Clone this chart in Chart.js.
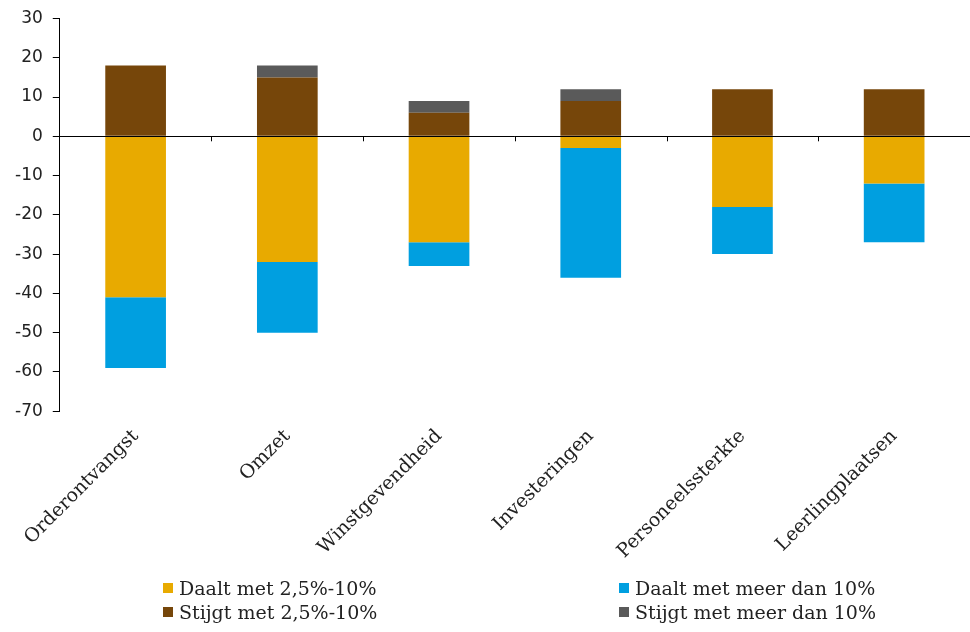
<!DOCTYPE html>
<html><head><meta charset="utf-8">
<script src="https://cdn.jsdelivr.net/npm/chart.js@4.4.1/dist/chart.umd.min.js"></script>
<style>
html,body{margin:0;padding:0;background:#fff;}
#wrap{position:relative;width:970px;height:632px;}
#legend{position:absolute;left:0;top:577px;width:970px;font-family:"DejaVu Serif",serif;font-size:19px;color:#222;}
.item{position:absolute;display:flex;align-items:center;white-space:nowrap;}
.box{width:10px;height:10px;margin-right:6px;}
</style></head><body>
<div id="wrap"><canvas id="c" width="970" height="632"></canvas><div id="legend"></div></div>
<script>
const categories = ["Orderontvangst","Omzet","Winstgevendheid","Investeringen","Personeelssterkte","Leerlingplaatsen"];
const daalt2510 = [-41,-32,-27,-3,-18,-12];
const daaltMeer10 = [-18,-18,-6,-33,-12,-15];
const stijgt2510 = [18,15,6,9,12,12];
const stijgtMeer10 = [0,3,3,3,0,0];
const yTicks = [30,20,10,0,-10,-20,-30,-40,-50,-60,-70];

const series = [
  {label:"Daalt met 2,5%-10%", data:daalt2510, color:"#E8AA00"},
  {label:"Daalt met meer dan 10%", data:daaltMeer10, color:"#009FE0"},
  {label:"Stijgt met 2,5%-10%", data:stijgt2510, color:"#76460A"},
  {label:"Stijgt met meer dan 10%", data:stijgtMeer10, color:"#5A5A5A"}
];

const zeroTicks = {
  id:'zeroTicks',
  afterDatasetsDraw(chart){
    const x = chart.scales.x, y = chart.scales.y, ctx = chart.ctx;
    const y0 = y.getPixelForValue(0);
    ctx.save();
    ctx.strokeStyle = '#000'; ctx.lineWidth = 1;
    ctx.beginPath();
    ctx.moveTo(chart.chartArea.left, Math.round(y0)+0.5);
    ctx.lineTo(chart.chartArea.right, Math.round(y0)+0.5);
    for(let i=1;i<categories.length;i++){
      const px = Math.round(x.getPixelForValue(i-0.5))+0.5;
      ctx.moveTo(px, y0); ctx.lineTo(px, y0+5);
    }
    ctx.stroke();
    ctx.restore();
  }
};

new Chart(document.getElementById('c'), {
  type:'bar',
  data:{labels:categories, datasets: series.map(s=>({label:s.label,data:s.data,backgroundColor:s.color,borderWidth:0,categoryPercentage:1,barPercentage:0.4}))},
  options:{
    responsive:false, animation:false,
    layout:{padding:{left:5,right:0,top:10,bottom:63}},
    plugins:{legend:{display:false},tooltip:{enabled:false}},
    scales:{
      x:{stacked:true,grid:{display:false},border:{display:false},
        ticks:{minRotation:45,maxRotation:45,color:'#222',padding:6,font:{family:"DejaVu Serif",size:19}}},
      y:{stacked:true,min:-70,max:30,
        afterBuildTicks(axis){axis.ticks = yTicks.map(v=>({value:v}));},
        grid:{drawOnChartArea:false,tickLength:7,tickColor:'#000'},
        border:{display:true,color:'#000',width:1},
        ticks:{color:'#222',padding:10,font:{family:"DejaVu Sans",size:17,lineHeight:1}}}
    }
  },
  plugins:[zeroTicks]
});

const lg = document.getElementById('legend');
const pos = [[163,0],[619,0],[163,24],[619,24]];
series.forEach((s,i)=>{
  const d = document.createElement('div'); d.className='item';
  d.style.left = pos[i][0]+'px'; d.style.top = pos[i][1]+'px';
  d.innerHTML = '<span class="box" style="background:'+s.color+'"></span><span>'+s.label+'</span>';
  lg.appendChild(d);
});
</script>
</body></html>
